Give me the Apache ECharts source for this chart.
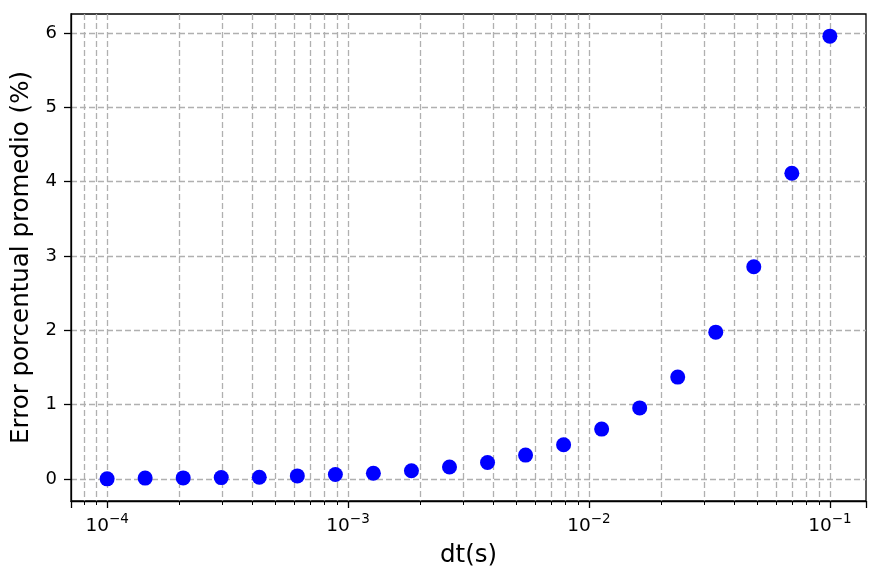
<!DOCTYPE html>
<html>
<head>
<meta charset="utf-8">
<script src="https://cdn.jsdelivr.net/npm/echarts@6/dist/echarts.min.js"></script>
<style>
html,body{margin:0;padding:0;background:#fff;}
#c{width:880px;height:581px;}
</style>
</head>
<body>
<div id="c"></div>
<script>
// time step (s)
const dt = [1.000e-4, 1.438e-4, 2.069e-4, 2.976e-4, 4.281e-4, 6.158e-4, 8.859e-4,
            1.274e-3, 1.833e-3, 2.637e-3, 3.793e-3, 5.456e-3, 7.848e-3,
            1.129e-2, 1.624e-2, 2.336e-2, 3.360e-2, 4.833e-2, 6.952e-2, 1.000e-1];
// mean percent error (%)
const errPct = [0.00, 0.010, 0.013, 0.017, 0.022, 0.040, 0.058,
                0.075, 0.110, 0.160, 0.220, 0.320, 0.460,
                0.670, 0.955, 1.370, 1.975, 2.855, 4.115, 5.960];
const xName = 'dt(s)';
const yName = 'Error porcentual promedio (%)';
const xRange = [7.079e-5, 0.14125];
const yRange = [-0.298, 6.258];

const FONT = 'DejaVu Sans';
const gridColor = '#b0b0b0';
const dash = [6, 3];

const chart = echarts.init(document.getElementById('c'), null, {renderer: 'canvas'});
chart.setOption({
  animation: false,
  backgroundColor: '#fff',
  grid: {left: 71, top: 14, width: 795, height: 487, containLabel: false, outerBoundsMode: 'none',
         show: true, borderColor: '#000', borderWidth: 1.3, backgroundColor: 'transparent'},
  xAxis: {
    type: 'log', logBase: 10, min: xRange[0], max: xRange[1],
    name: xName, nameLocation: 'middle', nameGap: 42,
    nameTextStyle: {fontFamily: FONT, fontSize: 24.5, color: '#000'},
    axisLine: {show: true, onZero: false, lineStyle: {color: '#000', width: 1.3}},
    axisTick: {show: true, length: 7, lineStyle: {color: '#000', width: 1.3}},
    minorTick: {show: true, splitNumber: 9, length: 4, lineStyle: {color: '#000', width: 1}},
    splitLine: {show: true, showMinLine: false, showMaxLine: false, lineStyle: {color: gridColor, type: dash, width: 1.3}},
    minorSplitLine: {show: true, lineStyle: {color: gridColor, type: dash, width: 1.3}},
    axisLabel: {
      showMinLabel: false, showMaxLabel: false, margin: 11,
      formatter: function (v) {
        const e = Math.round(Math.log10(v));
        return '{b|10}{s|' + (e < 0 ? '\u2212' : '') + Math.abs(e) + '}';
      },
      rich: {
        b: {fontFamily: FONT, fontSize: 18.5, color: '#000', lineHeight: 24, verticalAlign: 'bottom'},
        s: {fontFamily: FONT, fontSize: 13.5, color: '#000', lineHeight: 24, verticalAlign: 'top'}
      }
    }
  },
  yAxis: {
    type: 'value', min: yRange[0], max: yRange[1],
    name: yName, nameLocation: 'middle', nameGap: 37, nameRotate: 90,
    nameTextStyle: {fontFamily: FONT, fontSize: 24.5, color: '#000'},
    axisLine: {show: true, onZero: false, lineStyle: {color: '#000', width: 1.3}},
    axisTick: {show: true, length: 7, lineStyle: {color: '#000', width: 1.3}},
    splitLine: {show: true, showMinLine: false, showMaxLine: false, lineStyle: {color: gridColor, type: dash, width: 1.3}},
    axisLabel: {showMinLabel: false, showMaxLabel: false, margin: 14, fontFamily: FONT, fontSize: 18, color: '#000'}
  },
  series: [{
    type: 'scatter',
    data: dt.map((x, i) => [x, errPct[i]]),
    symbol: 'circle', symbolSize: 15,
    itemStyle: {color: '#0000ff', opacity: 1},
    z: 5
  }]
});
</script>
</body>
</html>
